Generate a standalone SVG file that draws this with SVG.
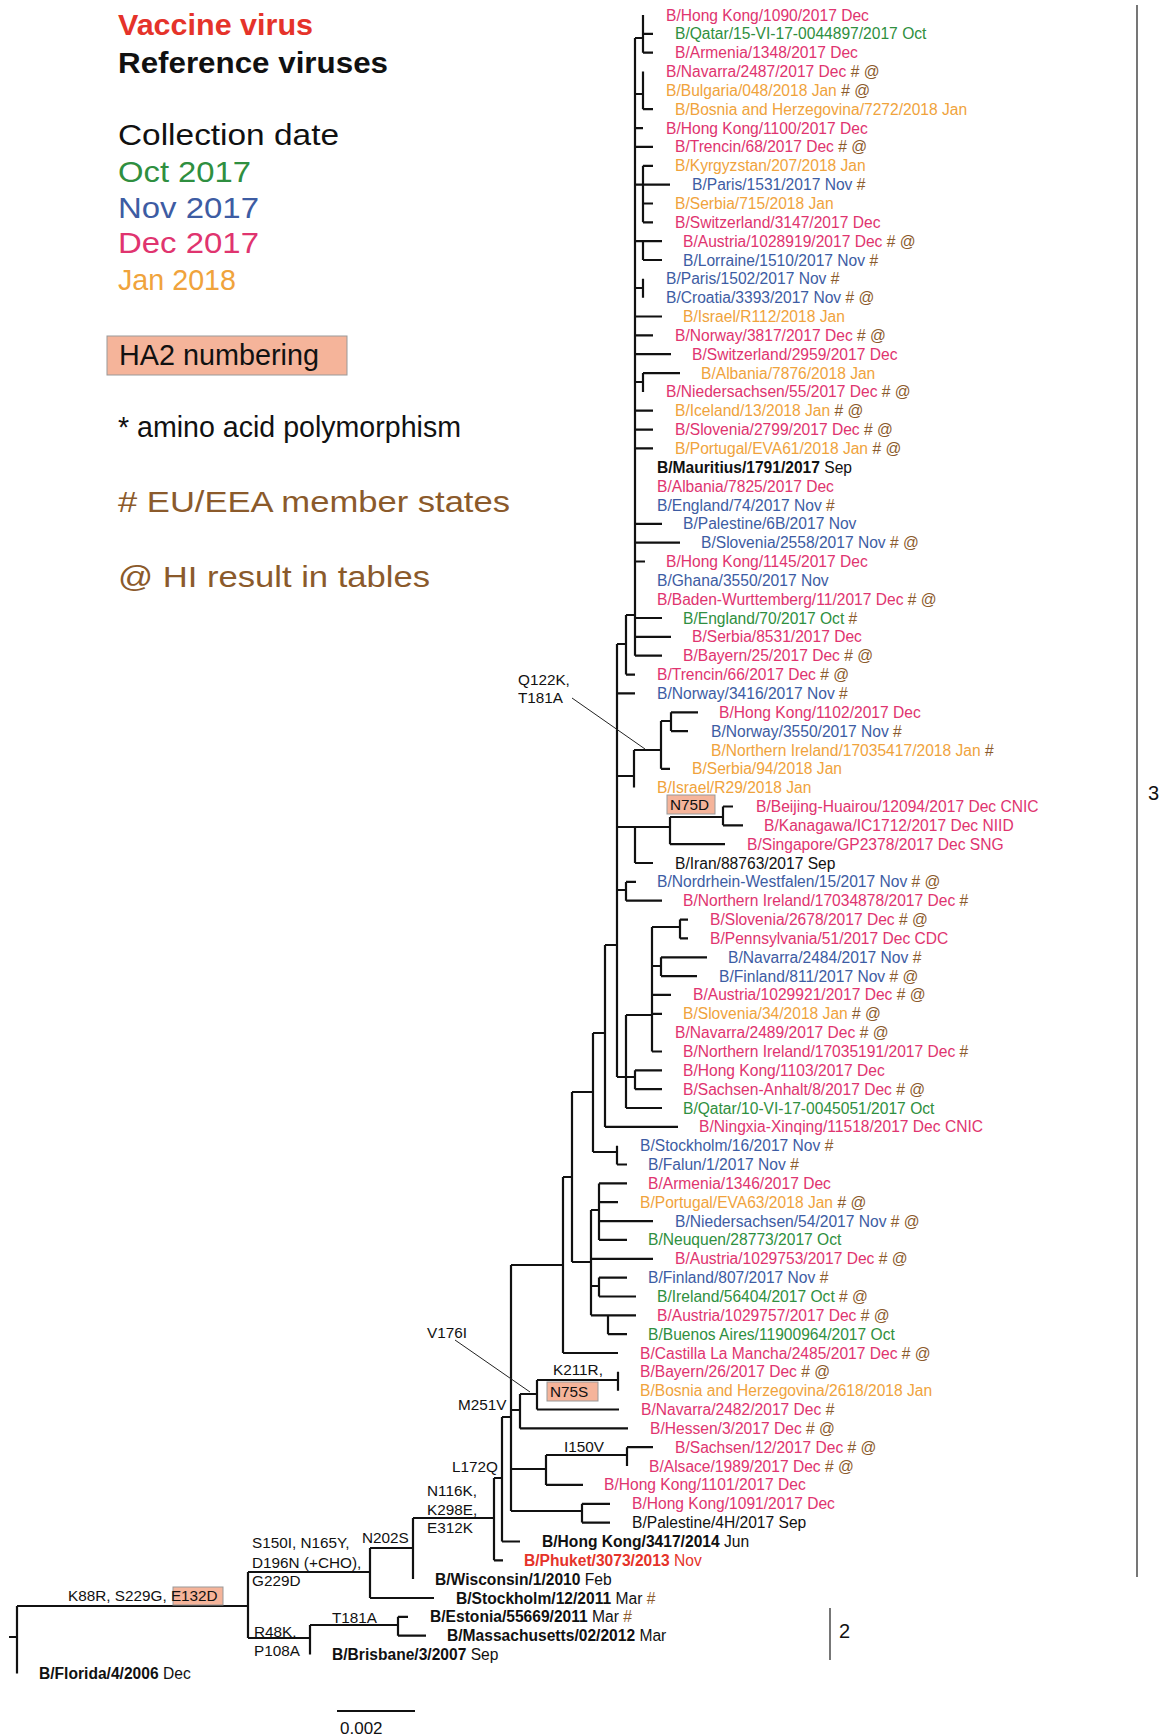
<svg xmlns="http://www.w3.org/2000/svg" width="1161" height="1736" viewBox="0 0 1161 1736">
<style>
.t{font-family:"Liberation Sans",Arial,sans-serif;font-size:15.6px}
.b{font-weight:bold}
.dec{fill:#e0346f}.nov{fill:#3d5ca3}.oct{fill:#2f8f40}.jan{fill:#f0a33c}.blk{fill:#111}.red{fill:#e5332a}
.s{fill:#8b5a2b}
.m{font-family:"Liberation Sans",Arial,sans-serif;font-size:15.3px;fill:#111}
.lg{font-family:"Liberation Sans",Arial,sans-serif;font-size:30px}
.br{fill:none;stroke:#111;stroke-width:2.2}
.ld{fill:none;stroke:#222;stroke-width:1}
.box{fill:#f5b49a;stroke:#999;stroke-width:1}
.bar{fill:none;stroke:#555;stroke-width:1.6}
.num{font-family:"Liberation Sans",Arial,sans-serif;font-size:20px;fill:#111}
</style>
<rect width="1161" height="1736" fill="#fff"/>
<g id="legend">
<text class="lg b red" x="118" y="35" textLength="195" lengthAdjust="spacingAndGlyphs">Vaccine virus</text>
<text class="lg b blk" x="118" y="73" textLength="270" lengthAdjust="spacingAndGlyphs">Reference viruses</text>
<text class="lg blk" x="118" y="145" textLength="221" lengthAdjust="spacingAndGlyphs">Collection date</text>
<text class="lg oct" x="118" y="182" textLength="133" lengthAdjust="spacingAndGlyphs">Oct 2017</text>
<text class="lg nov" x="118" y="218" textLength="141" lengthAdjust="spacingAndGlyphs">Nov 2017</text>
<text class="lg dec" x="118" y="253" textLength="141" lengthAdjust="spacingAndGlyphs">Dec 2017</text>
<text class="lg jan" x="118" y="290" textLength="118" lengthAdjust="spacingAndGlyphs">Jan 2018</text>
<rect class="box" x="107" y="336" width="240" height="39"/>
<text class="lg blk" x="119" y="365" textLength="200" lengthAdjust="spacingAndGlyphs">HA2 numbering</text>
<text class="lg blk" x="118" y="437" textLength="343" lengthAdjust="spacingAndGlyphs">* amino acid polymorphism</text>
<text class="lg s" x="118" y="512" textLength="392" lengthAdjust="spacingAndGlyphs"># EU/EEA member states</text>
<text class="lg s" x="118" y="587" textLength="312" lengthAdjust="spacingAndGlyphs">@ HI result in tables</text>
</g>
<g id="connectors">
<path class="br" d="M643,15V52.7M635,38H643M643,33.8H653M643,52.7H653
M643,71.5V109.2M635,94H643M643,109.2H653
M635,128.1H643M635,146.9H653
M643,165.8V222.3M643,165.8H653M635,184.6H670M643,203.5H653M643,222.3H653
M643,241.1V260M635,241.1H662M643,260H662
M643,278.8V297.7M635,288H643
M635,316.5H662M635,335.4H653M635,354.2H671
M643,373.1V391.9M635,382H643M643,373.1H680
M635,410.7H653M635,429.6H653M635,448.4H653
M635,523.8H662M635,542.7H680M635,561.5H645
M635,618H662M635,636.9H671M635,655.7H662
M635,38V655.7
M626,615H635M626,615V674.6M626,674.6H635
M617,644H626M617,644V1077M617,693.4H635
M617,776H634M634,750V787.6M634,750H661M661,721V768.8M661,721H671M671,712.3V731.1M671,712.3H698M671,731.1H688M661,768.8H670
M617,827H670M635,827V863M635,863H653M670,817V844.2M670,817H723M723,806.5V825.3M723,806.5H733M723,825.3H743M670,844.2H725
M617,890H626M626,881.9V900.7M626,881.9H636M626,900.7H662
M605,945H617M605,945V1126.9M605,1126.9H678
M652,927V1051.5M652,927H680M680,919.6V938.4M680,919.6H688M680,938.4H688M652,966H661M661,957.3V976.1M661,957.3H707M661,976.1H697M652,994.9H671M652,1013.8H662M652,1051.5H662
M626,1015V1108M626,1015H652M626,1108H662M617,1077H635M635,1070.3V1089.2M635,1070.3H662M635,1089.2H662
M617,1145.7V1164.5M617,1164.5H627
M593,1033H605M593,1033V1152M593,1152H617
M599,1183.4V1239.9M599,1183.4H627M599,1202.2H618M599,1221.1H653M599,1239.9H627
M591,1210H599M591,1210V1315.3M591,1258.8H653M591,1286H599M599,1277.6V1296.5M599,1277.6H627M599,1296.5H636
M591,1315.3H608M608,1315.3V1334.2M608,1315.3H636M608,1334.2H627
M572,1092H593M572,1092V1262M572,1262H591
M563,1177H572M563,1177V1353M563,1353H618
M511,1265H563M511,1265V1511
M511,1410H520M520,1394V1428.4M520,1394H537M537,1380V1409.5M537,1380H618M618,1371.8V1390.7M537,1409.5H619M520,1428.4H628
M511,1469H546M546,1455V1484.9M546,1455H627M627,1447.2V1466.1M627,1447.2H653M546,1484.9H583
M511,1511H582M582,1503.8V1522.6M582,1503.8H610M582,1522.6H610
M502,1417H511M502,1417V1541.5M502,1541.5H520
M494,1478H502M494,1478V1560.3M494,1560.3H503
M413,1518H494M413,1518V1579.1
M370,1548H413M370,1548V1598M370,1598H434
M248,1572H370M248,1572V1638M248,1638H310
M310,1625V1654.5M310,1625H398M398,1616.8V1635.7M398,1616.8H408M398,1635.7H426
M17,1606H248M17,1606V1673.4M9,1637H17"/>
<path class="ld" d="M572,698L645,749M455,1340L530,1392"/>
</g>
<g id="mutations">
<text class="m" x="518" y="685">Q122K,</text>
<text class="m" x="518" y="703">T181A</text>
<rect class="box" x="667" y="795" width="48" height="19"/>
<text class="m" x="670" y="810">N75D</text>
<text class="m" x="427" y="1338">V176I</text>
<text class="m" x="553" y="1375">K211R,</text>
<rect class="box" x="547" y="1382" width="51" height="19"/>
<text class="m" x="550" y="1397">N75S</text>
<text class="m" x="458" y="1410">M251V</text>
<text class="m" x="564" y="1452">I150V</text>
<text class="m" x="452" y="1472">L172Q</text>
<text class="m" x="427" y="1496">N116K,</text>
<text class="m" x="427" y="1515">K298E,</text>
<text class="m" x="427" y="1533">E312K</text>
<text class="m" x="362" y="1543">N202S</text>
<text class="m" x="252" y="1548">S150I, N165Y,</text>
<text class="m" x="252" y="1568">D196N (+CHO),</text>
<text class="m" x="252" y="1586">G229D</text>
<rect class="box" x="173" y="1587" width="50" height="18"/>
<text class="m" x="68" y="1601">K88R, S229G, E132D</text>
<text class="m" x="332" y="1623">T181A</text>
<text class="m" x="254" y="1637">R48K,</text>
<text class="m" x="254" y="1656">P108A</text>
</g>
<g id="leaves">
<g id="n0"><text class="t dec" x="666" y="20.5">B/Hong Kong/1090/2017 Dec</text></g>
<g id="n1"><text class="t oct" x="675" y="39.3">B/Qatar/15-VI-17-0044897/2017 Oct</text></g>
<g id="n2"><text class="t dec" x="675" y="58.2">B/Armenia/1348/2017 Dec</text></g>
<g id="n3"><text class="t dec" x="666" y="77">B/Navarra/2487/2017 Dec<tspan class="s"> # @</tspan></text></g>
<g id="n4"><text class="t jan" x="666" y="95.9">B/Bulgaria/048/2018 Jan<tspan class="s"> # @</tspan></text></g>
<g id="n5"><text class="t jan" x="675" y="114.7">B/Bosnia and Herzegovina/7272/2018 Jan</text></g>
<g id="n6"><text class="t dec" x="666" y="133.6">B/Hong Kong/1100/2017 Dec</text></g>
<g id="n7"><text class="t dec" x="675" y="152.4">B/Trencin/68/2017 Dec<tspan class="s"> # @</tspan></text></g>
<g id="n8"><text class="t jan" x="675" y="171.3">B/Kyrgyzstan/207/2018 Jan</text></g>
<g id="n9"><text class="t nov" x="692" y="190.1">B/Paris/1531/2017 Nov<tspan class="s"> #</tspan></text></g>
<g id="n10"><text class="t jan" x="675" y="209">B/Serbia/715/2018 Jan</text></g>
<g id="n11"><text class="t dec" x="675" y="227.8">B/Switzerland/3147/2017 Dec</text></g>
<g id="n12"><text class="t dec" x="683" y="246.6">B/Austria/1028919/2017 Dec<tspan class="s"> # @</tspan></text></g>
<g id="n13"><text class="t nov" x="683" y="265.5">B/Lorraine/1510/2017 Nov<tspan class="s"> #</tspan></text></g>
<g id="n14"><text class="t nov" x="666" y="284.3">B/Paris/1502/2017 Nov<tspan class="s"> #</tspan></text></g>
<g id="n15"><text class="t nov" x="666" y="303.2">B/Croatia/3393/2017 Nov<tspan class="s"> # @</tspan></text></g>
<g id="n16"><text class="t jan" x="683" y="322">B/Israel/R112/2018 Jan</text></g>
<g id="n17"><text class="t dec" x="675" y="340.9">B/Norway/3817/2017 Dec<tspan class="s"> # @</tspan></text></g>
<g id="n18"><text class="t dec" x="692" y="359.7">B/Switzerland/2959/2017 Dec</text></g>
<g id="n19"><text class="t jan" x="701" y="378.6">B/Albania/7876/2018 Jan</text></g>
<g id="n20"><text class="t dec" x="666" y="397.4">B/Niedersachsen/55/2017 Dec<tspan class="s"> # @</tspan></text></g>
<g id="n21"><text class="t jan" x="675" y="416.2">B/Iceland/13/2018 Jan<tspan class="s"> # @</tspan></text></g>
<g id="n22"><text class="t dec" x="675" y="435.1">B/Slovenia/2799/2017 Dec<tspan class="s"> # @</tspan></text></g>
<g id="n23"><text class="t jan" x="675" y="453.9">B/Portugal/EVA61/2018 Jan<tspan class="s"> # @</tspan></text></g>
<g id="n24"><text class="t blk" x="657" y="472.8"><tspan class="b">B/Mauritius/1791/2017</tspan> Sep</text></g>
<g id="n25"><text class="t dec" x="657" y="491.6">B/Albania/7825/2017 Dec</text></g>
<g id="n26"><text class="t nov" x="657" y="510.5">B/England/74/2017 Nov<tspan class="s"> #</tspan></text></g>
<g id="n27"><text class="t nov" x="683" y="529.3">B/Palestine/6B/2017 Nov</text></g>
<g id="n28"><text class="t nov" x="701" y="548.2">B/Slovenia/2558/2017 Nov<tspan class="s"> # @</tspan></text></g>
<g id="n29"><text class="t dec" x="666" y="567">B/Hong Kong/1145/2017 Dec</text></g>
<g id="n30"><text class="t nov" x="657" y="585.9">B/Ghana/3550/2017 Nov</text></g>
<g id="n31"><text class="t dec" x="657" y="604.7">B/Baden-Wurttemberg/11/2017 Dec<tspan class="s"> # @</tspan></text></g>
<g id="n32"><text class="t oct" x="683" y="623.5">B/England/70/2017 Oct<tspan class="s"> #</tspan></text></g>
<g id="n33"><text class="t dec" x="692" y="642.4">B/Serbia/8531/2017 Dec</text></g>
<g id="n34"><text class="t dec" x="683" y="661.2">B/Bayern/25/2017 Dec<tspan class="s"> # @</tspan></text></g>
<g id="n35"><text class="t dec" x="657" y="680.1">B/Trencin/66/2017 Dec<tspan class="s"> # @</tspan></text></g>
<g id="n36"><text class="t nov" x="657" y="698.9">B/Norway/3416/2017 Nov<tspan class="s"> #</tspan></text></g>
<g id="n37"><text class="t dec" x="719" y="717.8">B/Hong Kong/1102/2017 Dec</text></g>
<g id="n38"><text class="t nov" x="711" y="736.6">B/Norway/3550/2017 Nov<tspan class="s"> #</tspan></text></g>
<g id="n39"><text class="t jan" x="711" y="755.5">B/Northern Ireland/17035417/2018 Jan<tspan class="s"> #</tspan></text></g>
<g id="n40"><text class="t jan" x="692" y="774.3">B/Serbia/94/2018 Jan</text></g>
<g id="n41"><text class="t jan" x="657" y="793.1">B/Israel/R29/2018 Jan</text></g>
<g id="n42"><text class="t dec" x="756" y="812">B/Beijing-Huairou/12094/2017 Dec CNIC</text></g>
<g id="n43"><text class="t dec" x="764" y="830.8">B/Kanagawa/IC1712/2017 Dec NIID</text></g>
<g id="n44"><text class="t dec" x="747" y="849.7">B/Singapore/GP2378/2017 Dec SNG</text></g>
<g id="n45"><text class="t blk" x="675" y="868.5">B/Iran/88763/2017 Sep</text></g>
<g id="n46"><text class="t nov" x="657" y="887.4">B/Nordrhein-Westfalen/15/2017 Nov<tspan class="s"> # @</tspan></text></g>
<g id="n47"><text class="t dec" x="683" y="906.2">B/Northern Ireland/17034878/2017 Dec<tspan class="s"> #</tspan></text></g>
<g id="n48"><text class="t dec" x="710" y="925.1">B/Slovenia/2678/2017 Dec<tspan class="s"> # @</tspan></text></g>
<g id="n49"><text class="t dec" x="710" y="943.9">B/Pennsylvania/51/2017 Dec CDC</text></g>
<g id="n50"><text class="t nov" x="728" y="962.8">B/Navarra/2484/2017 Nov<tspan class="s"> #</tspan></text></g>
<g id="n51"><text class="t nov" x="719" y="981.6">B/Finland/811/2017 Nov<tspan class="s"> # @</tspan></text></g>
<g id="n52"><text class="t dec" x="693" y="1000.4">B/Austria/1029921/2017 Dec<tspan class="s"> # @</tspan></text></g>
<g id="n53"><text class="t jan" x="683" y="1019.3">B/Slovenia/34/2018 Jan<tspan class="s"> # @</tspan></text></g>
<g id="n54"><text class="t dec" x="675" y="1038.1">B/Navarra/2489/2017 Dec<tspan class="s"> # @</tspan></text></g>
<g id="n55"><text class="t dec" x="683" y="1057">B/Northern Ireland/17035191/2017 Dec<tspan class="s"> #</tspan></text></g>
<g id="n56"><text class="t dec" x="683" y="1075.8">B/Hong Kong/1103/2017 Dec</text></g>
<g id="n57"><text class="t dec" x="683" y="1094.7">B/Sachsen-Anhalt/8/2017 Dec<tspan class="s"> # @</tspan></text></g>
<g id="n58"><text class="t oct" x="683" y="1113.5">B/Qatar/10-VI-17-0045051/2017 Oct</text></g>
<g id="n59"><text class="t dec" x="699" y="1132.4">B/Ningxia-Xinqing/11518/2017 Dec CNIC</text></g>
<g id="n60"><text class="t nov" x="640" y="1151.2">B/Stockholm/16/2017 Nov<tspan class="s"> #</tspan></text></g>
<g id="n61"><text class="t nov" x="648" y="1170">B/Falun/1/2017 Nov<tspan class="s"> #</tspan></text></g>
<g id="n62"><text class="t dec" x="648" y="1188.9">B/Armenia/1346/2017 Dec</text></g>
<g id="n63"><text class="t jan" x="640" y="1207.7">B/Portugal/EVA63/2018 Jan<tspan class="s"> # @</tspan></text></g>
<g id="n64"><text class="t nov" x="675" y="1226.6">B/Niedersachsen/54/2017 Nov<tspan class="s"> # @</tspan></text></g>
<g id="n65"><text class="t oct" x="648" y="1245.4">B/Neuquen/28773/2017 Oct</text></g>
<g id="n66"><text class="t dec" x="675" y="1264.3">B/Austria/1029753/2017 Dec<tspan class="s"> # @</tspan></text></g>
<g id="n67"><text class="t nov" x="648" y="1283.1">B/Finland/807/2017 Nov<tspan class="s"> #</tspan></text></g>
<g id="n68"><text class="t oct" x="657" y="1302">B/Ireland/56404/2017 Oct<tspan class="s"> # @</tspan></text></g>
<g id="n69"><text class="t dec" x="657" y="1320.8">B/Austria/1029757/2017 Dec<tspan class="s"> # @</tspan></text></g>
<g id="n70"><text class="t oct" x="648" y="1339.7">B/Buenos Aires/11900964/2017 Oct</text></g>
<g id="n71"><text class="t dec" x="640" y="1358.5">B/Castilla La Mancha/2485/2017 Dec<tspan class="s"> # @</tspan></text></g>
<g id="n72"><text class="t dec" x="640" y="1377.3">B/Bayern/26/2017 Dec<tspan class="s"> # @</tspan></text></g>
<g id="n73"><text class="t jan" x="640" y="1396.2">B/Bosnia and Herzegovina/2618/2018 Jan</text></g>
<g id="n74"><text class="t dec" x="641" y="1415">B/Navarra/2482/2017 Dec<tspan class="s"> #</tspan></text></g>
<g id="n75"><text class="t dec" x="650" y="1433.9">B/Hessen/3/2017 Dec<tspan class="s"> # @</tspan></text></g>
<g id="n76"><text class="t dec" x="675" y="1452.7">B/Sachsen/12/2017 Dec<tspan class="s"> # @</tspan></text></g>
<g id="n77"><text class="t dec" x="649" y="1471.6">B/Alsace/1989/2017 Dec<tspan class="s"> # @</tspan></text></g>
<g id="n78"><text class="t dec" x="604" y="1490.4">B/Hong Kong/1101/2017 Dec</text></g>
<g id="n79"><text class="t dec" x="632" y="1509.3">B/Hong Kong/1091/2017 Dec</text></g>
<g id="n80"><text class="t blk" x="632" y="1528.1">B/Palestine/4H/2017 Sep</text></g>
<g id="n81"><text class="t blk" x="542" y="1547"><tspan class="b">B/Hong Kong/3417/2014</tspan> Jun</text></g>
<g id="n82"><text class="t red" x="524" y="1565.8"><tspan class="b">B/Phuket/3073/2013</tspan> Nov</text></g>
<g id="n83"><text class="t blk" x="435" y="1584.6"><tspan class="b">B/Wisconsin/1/2010</tspan> Feb</text></g>
<g id="n84"><text class="t blk" x="456" y="1603.5"><tspan class="b">B/Stockholm/12/2011</tspan> Mar<tspan class="s"> #</tspan></text></g>
<g id="n85"><text class="t blk" x="430" y="1622.3"><tspan class="b">B/Estonia/55669/2011</tspan> Mar<tspan class="s"> #</tspan></text></g>
<g id="n86"><text class="t blk" x="447" y="1641.2"><tspan class="b">B/Massachusetts/02/2012</tspan> Mar</text></g>
<g id="n87"><text class="t blk" x="332" y="1660"><tspan class="b">B/Brisbane/3/2007</tspan> Sep</text></g>
<g id="n88"><text class="t blk" x="39" y="1678.9"><tspan class="b">B/Florida/4/2006</tspan> Dec</text></g>
</g>
<g id="clade-bars">
<path class="bar" d="M1137,5V1577M830,1608V1660"/>
<text class="num" x="1148" y="800">3</text>
<text class="num" x="839" y="1638">2</text>
</g>
<g id="scale">
<path class="br" d="M337,1711H415"/>
<text class="num" x="340" y="1734" style="font-size:17px">0.002</text>
</g>
</svg>
